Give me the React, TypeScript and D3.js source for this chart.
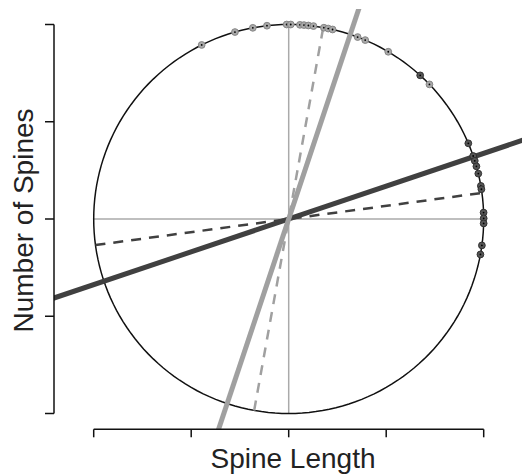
import React from "react";
import * as d3 from "d3";

// Angles (degrees) of observations on the unit circle
const greyAngles = [116.5, 106, 100.6, 96.4, 90.6, 89.4, 86.7, 85.5, 84.2, 82.7, 79.6, 78.3, 77, 69.3, 66.9, 59.3, 43.8];
const darkAngles = [47.6, 22.9, 18.9, 17.4, 15.7, 13.5, 9.8, 8.8, 1.9, 0.2, -1.3, -7.8, -10.5];
// Direction angles (degrees)
const darkAxisAngle = 18.65;
const greyAxisAngle = 71.6;
const darkMeanAngle = 7.7;
const greyMeanAngle = 79.8;
const xTicks = [-1, -0.5, 0, 0.5, 1];
const yTicks = [-1, -0.5, 0, 0.5, 1];

const W = 522, H = 474;
const plot = { left: 54, right: 522, top: 9, bottom: 429.3 };

export default function App() {
  const x = d3.scaleLinear().domain([-1, 1]).range([93.7, 483.7]);
  const y = d3.scaleLinear().domain([-1, 1]).range([413.5, 24.5]);
  const rad = (a: number) => (a * Math.PI) / 180;
  const line = d3.line<[number, number]>().x((d) => x(d[0])).y((d) => y(d[1]));
  const circlePts: [number, number][] = d3.range(0, 361, 2).map((a) => [Math.cos(rad(a)), Math.sin(rad(a))]);
  const seg = (a: number, t: number): [number, number][] => [
    [-t * Math.cos(rad(a)), -t * Math.sin(rad(a))],
    [t * Math.cos(rad(a)), t * Math.sin(rad(a))],
  ];
  const font = "'Liberation Sans', Arial, Helvetica, sans-serif";
  const grey = "#a0a0a0";
  const dark = "#404040";
  return (
    <svg width={W} height={H} style={{ position: "absolute", left: 0, top: 0, background: "#fff" }}>
      <defs>
        <clipPath id="pr">
          <rect x={plot.left} y={plot.top} width={plot.right - plot.left} height={plot.bottom - plot.top} />
        </clipPath>
      </defs>
      <g clipPath="url(#pr)">
        <path d={line([[-1, 0], [1, 0]])!} stroke="#aaaaaa" strokeWidth={1.5} fill="none" />
        <path d={line([[0, -1], [0, 1]])!} stroke="#aaaaaa" strokeWidth={1.5} fill="none" />
        <path d={line(circlePts)!} stroke="#111" strokeWidth={1.5} fill="none" />
        <path d={line(seg(darkMeanAngle, 1))!} stroke={dark} strokeWidth={2.5} strokeDasharray="10,8" fill="none" />
        <path d={line(seg(greyMeanAngle, 1))!} stroke={grey} strokeWidth={2.5} strokeDasharray="10,8" fill="none" />
        <path d={line(seg(darkAxisAngle, 3))!} stroke={dark} strokeWidth={5} fill="none" />
        <path d={line(seg(greyAxisAngle, 3))!} stroke={grey} strokeWidth={5} fill="none" />
        {greyAngles.map((a, i) => (
          <g key={"g" + i}>
            <circle cx={x(Math.cos(rad(a)))} cy={y(Math.sin(rad(a)))} r={3.4} fill="#a8a8a8" stroke="#808080" strokeWidth={0.9} />
            <circle cx={x(Math.cos(rad(a)))} cy={y(Math.sin(rad(a)))} r={0.9} fill="#000" />
          </g>
        ))}
        {darkAngles.map((a, i) => (
          <g key={"d" + i}>
            <circle cx={x(Math.cos(rad(a)))} cy={y(Math.sin(rad(a)))} r={3.4} fill="#555" stroke="#2a2a2a" strokeWidth={0.9} />
            <circle cx={x(Math.cos(rad(a)))} cy={y(Math.sin(rad(a)))} r={0.9} fill="#000" />
          </g>
        ))}
      </g>
      {/* y axis */}
      <line x1={plot.left} x2={plot.left} y1={y(-1)} y2={y(1)} stroke="#111" strokeWidth={1.5} />
      {yTicks.map((t) => (
        <line key={"yt" + t} x1={plot.left - 9} x2={plot.left} y1={y(t)} y2={y(t)} stroke="#111" strokeWidth={1.5} />
      ))}
      {/* x axis */}
      <line x1={x(-1)} x2={x(1)} y1={plot.bottom} y2={plot.bottom} stroke="#111" strokeWidth={1.5} />
      {xTicks.map((t) => (
        <line key={"xt" + t} x1={x(t)} x2={x(t)} y1={plot.bottom} y2={plot.bottom + 8} stroke="#111" strokeWidth={1.5} />
      ))}
      <text x={293} y={468} textAnchor="middle" fontFamily={font} fontSize={28} fill="#222">Spine Length</text>
      <text transform={`translate(33,${220.5}) rotate(-90)`} textAnchor="middle" fontFamily={font} fontSize={28} fill="#222">Number of Spines</text>
    </svg>
  );
}
